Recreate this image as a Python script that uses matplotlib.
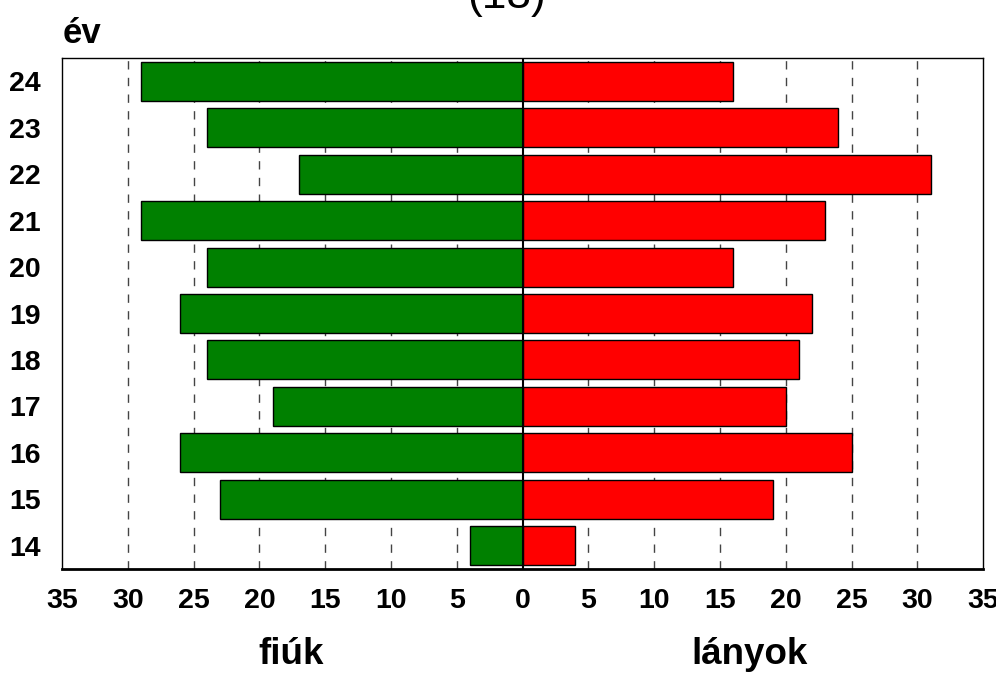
import numpy as np
import matplotlib.pyplot as plt

years = [14, 15, 16, 17, 18, 19, 20, 21, 22, 23, 24]
boys = [4, 23, 26, 19, 24, 26, 24, 29, 17, 24, 29]
girls = [4, 19, 25, 20, 21, 22, 16, 23, 31, 24, 16]
xticks = list(range(-35, 36, 5))
xlabels = [str(abs(v)) for v in xticks]

plt.rcParams['font.family'] = ['Liberation Sans', 'DejaVu Sans']

fig = plt.figure(figsize=(9.96, 6.73), dpi=100)
ax = fig.add_axes([0.0622, 0.1545, 0.925, 0.7593])

ax.barh(years, [-b for b in boys], height=0.84, color='#008000', edgecolor='black', linewidth=1, zorder=3)
ax.barh(years, girls, height=0.84, color='#ff0000', edgecolor='black', linewidth=1, zorder=3)

ax.set_xlim(-35, 35)
ax.set_ylim(13.5, 24.5)
for v in xticks[1:-1]:
    if v != 0:
        ax.axvline(v, color='#444444', linestyle=(0, (6, 6)), linewidth=1, zorder=1)
ax.axvline(0, color='black', linewidth=1.5, zorder=4)

ax.set_xticks(xticks)
ax.set_xticklabels(xlabels, fontsize=20.5, fontweight='bold')
ax.set_yticks(years)
ax.set_yticklabels([str(y) for y in years], fontsize=20.5, fontweight='bold')
ax.tick_params(axis='both', length=0)
ax.tick_params(axis='x', pad=14)
ax.tick_params(axis='y', pad=15)
for s in ax.spines.values():
    s.set_linewidth(1)
ax.spines['bottom'].set_linewidth(2)

fig.text(507 / 996, 1 - 8 / 673, '(18)', fontsize=32, ha='center', va='baseline')
fig.text(63 / 996, 1 - 43 / 673, 'év', fontsize=25, fontweight='bold', ha='left', va='baseline')
fig.text(291 / 996, 1 - 664 / 673, 'fiúk', fontsize=26.5, fontweight='bold', ha='center', va='baseline')
fig.text(750 / 996, 1 - 664 / 673, 'lányok', fontsize=26.5, fontweight='bold', ha='center', va='baseline')

fig.savefig('out.png', dpi=100)
